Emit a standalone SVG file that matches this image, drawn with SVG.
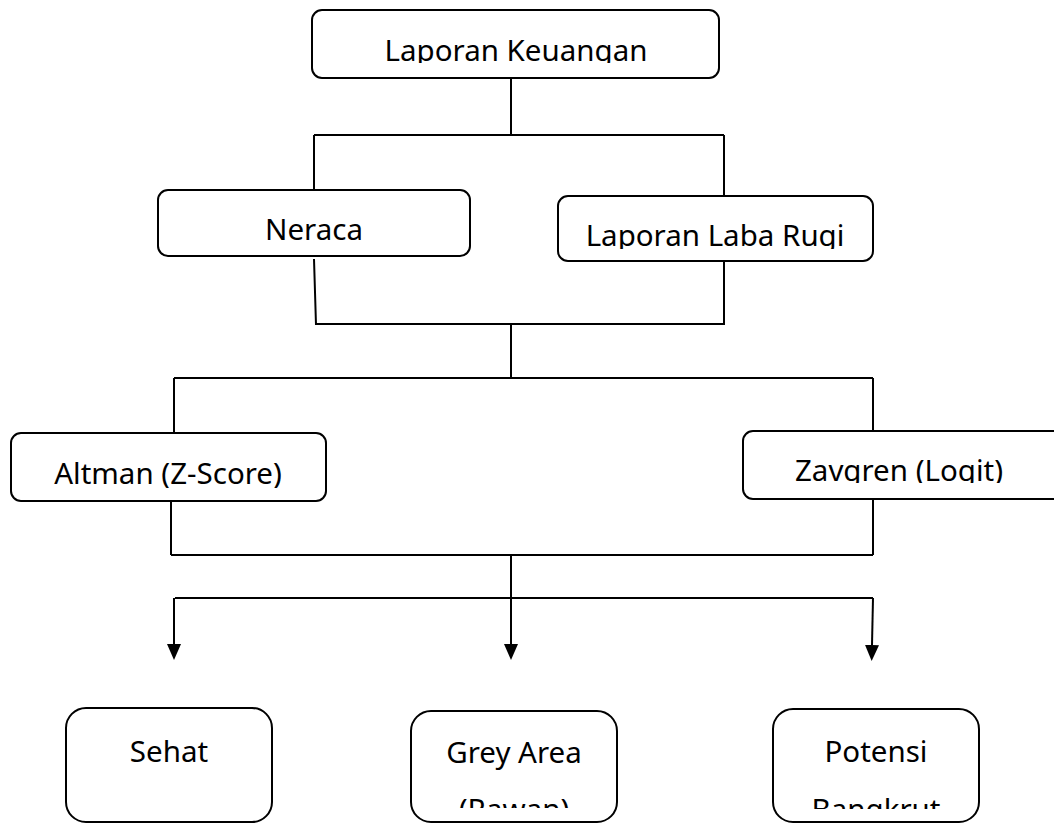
<svg xmlns="http://www.w3.org/2000/svg" width="1054" height="823" viewBox="0 0 1054 823">
<style>
.box{fill:#fff;stroke:#000;stroke-width:2}
.lbl{font-family:"Noto Sans","Open Sans",sans-serif;font-size:29.5px;fill:#000;text-anchor:middle}
.con{fill:none;stroke:#000;stroke-width:2}
</style>
<defs>
<marker id="arr" markerUnits="userSpaceOnUse" markerWidth="16" markerHeight="14" viewBox="0 0 16 14" refX="0" refY="7" orient="auto">
<path d="M0,0 L16,7 L0,14 z" fill="#000"/>
</marker>
<clipPath id="c1"><rect x="312" y="10" width="407" height="53"/></clipPath>
<clipPath id="c3"><rect x="558" y="196" width="315" height="53"/></clipPath>
<clipPath id="c4"><rect x="11" y="433" width="315" height="55"/></clipPath>
<clipPath id="c5"><rect x="743" y="431" width="311" height="52"/></clipPath>
<clipPath id="c7"><rect x="411" y="711" width="206" height="97"/></clipPath>
<clipPath id="c8"><rect x="773" y="709" width="206" height="100"/></clipPath>
</defs>
<g id="connectors">
<path class="con" d="M511,78 V135 M314,135 H724 M314,135 V190 M724,135 V196"/>
<path class="con" d="M314,259 L316,325 M724,261 V325 M315,324 H724 M511,324 V378 M174,378 H873 M174,378 V433 M873,378 V432"/>
<path class="con" d="M171,502 V555 M873,499 V555 M171,555 H873 M175,598 H873"/>
<line class="con" x1="511" y1="555" x2="511" y2="644" marker-end="url(#arr)"/>
<line class="con" x1="174" y1="598" x2="174" y2="644" marker-end="url(#arr)"/>
<line class="con" x1="873" y1="598" x2="872" y2="645" marker-end="url(#arr)"/>
</g>
<g id="n1"><rect class="box" x="312" y="10" width="407" height="68" rx="10"/><text class="lbl" x="516" y="61" clip-path="url(#c1)">Laporan Keuangan</text></g>
<g id="n2"><rect class="box" x="158" y="190" width="312" height="66" rx="10"/><text class="lbl" x="314" y="240">Neraca</text></g>
<g id="n3"><rect class="box" x="558" y="196" width="315" height="65" rx="10"/><text class="lbl" x="715" y="246" clip-path="url(#c3)">Laporan Laba Rugi</text></g>
<g id="n4"><rect class="box" x="11" y="433" width="315" height="68" rx="10"/><text class="lbl" x="168" y="484" clip-path="url(#c4)">Altman (Z-Score)</text></g>
<g id="n5"><rect class="box" x="743" y="431" width="320" height="68" rx="10"/><text class="lbl" x="899" y="481" clip-path="url(#c5)">Zavgren (Logit)</text></g>
<g id="n6"><rect class="box" x="66" y="708" width="206" height="114" rx="20"/><text class="lbl" x="169" y="762">Sehat</text></g>
<g id="n7"><rect class="box" x="411" y="711" width="206" height="111" rx="20"/><text class="lbl" clip-path="url(#c7)"><tspan x="514" y="763">Grey Area</tspan><tspan x="514" y="820">(Rawan)</tspan></text></g>
<g id="n8"><rect class="box" x="773" y="709" width="206" height="113" rx="20"/><text class="lbl" clip-path="url(#c8)"><tspan x="876" y="762">Potensi</tspan><tspan x="876" y="820">Bangkrut</tspan></text></g>
</svg>
